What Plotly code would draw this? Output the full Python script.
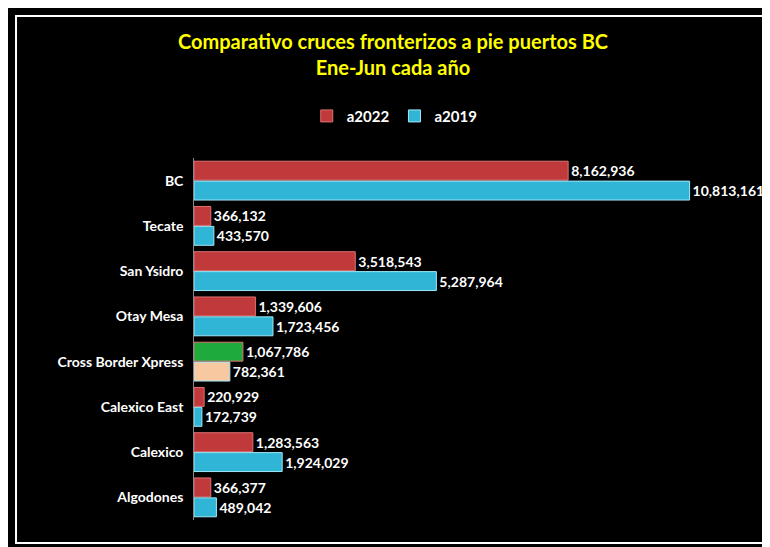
import plotly.graph_objects as go

categories = ["BC", "Tecate", "San Ysidro", "Otay Mesa", "Cross Border Xpress", "Calexico East", "Calexico", "Algodones"]
a2022 = [8162936, 366132, 3518543, 1339606, 1067786, 220929, 1283563, 366377]
a2019 = [10813161, 433570, 5287964, 1723456, 782361, 172739, 1924029, 489042]

c22 = ["#c0393b"] * len(categories)
c19 = ["#31b5d6"] * len(categories)
c22[4] = "#1faa3c"
c19[4] = "#f8c8a0"

fmt = lambda v: f"<b>{v:,}</b>"
fig = go.Figure()
fig.add_trace(go.Bar(name="<b>a2022</b>", y=categories, x=a2022, orientation="h",
                     marker=dict(color=c22, line=dict(color="#e07070", width=1)),
                     text=[fmt(v) for v in a2022], textposition="outside", cliponaxis=False))
fig.add_trace(go.Bar(name="<b>a2019</b>", y=categories, x=a2019, orientation="h",
                     marker=dict(color=c19, line=dict(color="#a0e8f8", width=1)),
                     text=[fmt(v) for v in a2019], textposition="outside", cliponaxis=False))

fig.update_traces(textfont=dict(color="white", size=14, family="Lato"))
fig.update_layout(
    width=770, height=547,
    paper_bgcolor="black", plot_bgcolor="black",
    margin=dict(l=186, r=34, t=150, b=35, autoexpand=False),
    barmode="group", bargap=0.12, bargroupgap=0.05,
    font=dict(family="Lato", color="white", size=14),
    title=dict(text="<b>Comparativo cruces fronterizos a pie puertos BC<br>Ene-Jun cada año</b>",
               x=0.5, xanchor="center", y=0.925, yanchor="middle",
               font=dict(color="#ffff00", size=20, family="Lato")),
    legend=dict(orientation="h", x=0.365, xanchor="center", y=1.07, yanchor="bottom",
                traceorder="normal", font=dict(color="white", size=15, family="Lato"),
                bgcolor="rgba(0,0,0,0)"),
    xaxis=dict(range=[0, 12000000], visible=False, automargin=False),
    yaxis=dict(autorange="reversed", showline=True, linecolor="#888", linewidth=1,
               automargin=False, ticks="", tickfont=dict(color="white", size=14, family="Lato"),
               ticksuffix="  ", tickprefix="<b>", ),
    shapes=[dict(type="rect", xref="paper", yref="paper",
                 x0=-0.3236, x1=1.0436, y0=-0.0635, y1=1.392,
                 line=dict(color="white", width=2))],
)
fig.write_html("out.html")
